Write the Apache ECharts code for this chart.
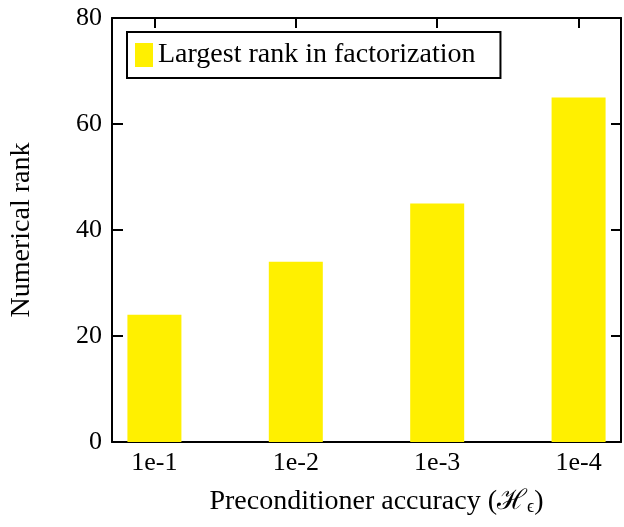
<!DOCTYPE html>
<html>
<head>
<meta charset="utf-8">
<script src="https://cdn.jsdelivr.net/npm/echarts@6/dist/echarts.min.js"></script>
<style>html,body{margin:0;padding:0;background:#fff;}#c{width:624px;height:527px;}</style>
</head>
<body>
<div id="c"></div>
<script>
var categories = ['1e-1', '1e-2', '1e-3', '1e-4'];
var rankValues = [24, 34, 45, 65];
var yTicks = [0, 20, 40, 60, 80];
var seriesName = 'Largest rank in factorization';

var FONT = 'Liberation Serif';
var positions = categories.map(function (c, i) { return i; });
var barData = rankValues.map(function (v, i) { return [i, v]; });

var chart = echarts.init(document.getElementById('c'), null, { renderer: 'canvas' });
var axisLineStyle = { color: '#000', width: 2 };
chart.setOption({
  animation: false,
  backgroundColor: '#fff',
  textStyle: { fontFamily: FONT, color: '#000' },
  grid: { left: 110, right: 3, top: 18, bottom: 85 },
  legend: {
    left: 127, top: 32,
    orient: 'vertical',
    padding: [9, 25, 9, 8],
    borderColor: '#000', borderWidth: 2,
    itemWidth: 18, itemHeight: 24, itemGap: 8,
    icon: 'rect',
    textStyle: { fontFamily: FONT, fontSize: 28, color: '#000' },
    data: [seriesName]
  },
  xAxis: [{
    type: 'value', min: -0.3, max: 3.3, position: 'bottom',
    axisLine: { show: true, onZero: false, lineStyle: axisLineStyle },
    axisTick: { show: true, inside: true, length: 10, customValues: positions, lineStyle: axisLineStyle },
    axisLabel: { customValues: positions, margin: 8, fontFamily: FONT, fontSize: 26, color: '#000',
      formatter: function (v) { return categories[Math.round(v)]; } },
    splitLine: { show: false },
    name: 'Preconditioner accuracy (ℋ{sub|ϵ})',
    nameLocation: 'middle', nameGap: 46,
    nameTextStyle: { fontFamily: FONT, fontSize: 28, color: '#000', padding: [0, 0, 0, 20],
      rich: { sub: { fontFamily: FONT, fontSize: 18, color: '#000', padding: [10, 0, 0, 0] } } }
  }, {
    type: 'value', min: -0.3, max: 3.3, position: 'top',
    axisLine: { show: true, onZero: false, lineStyle: axisLineStyle },
    axisTick: { show: true, inside: true, length: 10, customValues: positions, lineStyle: axisLineStyle },
    axisLabel: { show: false },
    splitLine: { show: false }
  }],
  yAxis: [{
    type: 'value', min: 0, max: 80, interval: 20, position: 'left',
    axisLine: { show: true, onZero: false, lineStyle: axisLineStyle },
    axisTick: { show: true, inside: true, length: 11, lineStyle: axisLineStyle },
    axisLabel: { margin: 10, fontFamily: FONT, fontSize: 26, color: '#000',
      formatter: function (v) { return yTicks.indexOf(v) >= 0 ? String(v) : ''; } },
    splitLine: { show: false },
    name: 'Numerical rank', nameLocation: 'middle', nameGap: 76, nameRotate: 90,
    nameTextStyle: { fontFamily: FONT, fontSize: 28, color: '#000' }
  }, {
    type: 'value', min: 0, max: 80, interval: 20, position: 'right',
    axisLine: { show: true, onZero: false, lineStyle: axisLineStyle },
    axisTick: { show: true, inside: true, length: 10, lineStyle: axisLineStyle },
    axisLabel: { show: false },
    splitLine: { show: false }
  }],
  series: [{
    name: seriesName,
    type: 'bar',
    xAxisIndex: 0, yAxisIndex: 0,
    barWidth: 54,
    itemStyle: { color: '#fff000' },
    data: barData,
    z: 1
  }]
});
</script>
</body>
</html>
